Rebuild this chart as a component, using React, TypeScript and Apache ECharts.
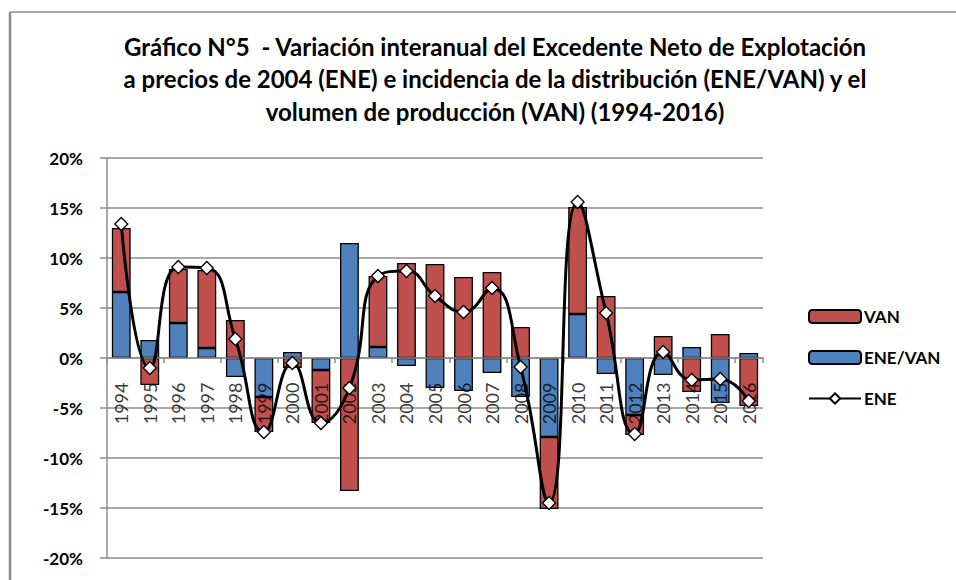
import React, { useEffect, useRef } from "react";
import * as echarts from "echarts";

const years = ["1994","1995","1996","1997","1998","1999","2000","2001","2002","2003","2004","2005","2006","2007","2008","2009","2010","2011","2012","2013","2014","2015","2016"];
const eneVan = [6.6, 1.8, 3.5, 1.0, -1.9, -3.9, 0.6, -1.2, 11.5, 1.1, -0.8, -3.0, -3.3, -1.5, -3.9, -7.9, 4.4, -1.6, -5.7, -1.7, 1.1, -4.5, 0.5];
const van = [6.4, -2.7, 5.4, 7.8, 3.8, -3.5, -1.0, -5.3, -13.3, 7.1, 9.5, 9.4, 8.1, 8.6, 3.1, -7.2, 10.7, 6.2, -2.0, 2.2, -3.4, 2.4, -4.8];
const ene = [13.4, -1.0, 9.1, 9.0, 1.9, -7.4, -0.5, -6.5, -3.0, 8.2, 8.7, 6.2, 4.6, 7.0, -0.9, -14.5, 15.6, 4.5, -7.6, 0.6, -2.2, -2.1, -4.3];

const titleText =
  "Gráfico N°5  - Variación interanual del Excedente Neto de Explotación\na precios de 2004 (ENE) e incidencia de la distribución (ENE/VAN) y el\nvolumen de producción (VAN) (1994-2016)";

export default function App() {
  const ref = useRef<HTMLDivElement>(null);
  useEffect(() => {
    if (!ref.current) return;
    const chart = echarts.init(ref.current, null, { renderer: "svg" });
    const gray = "#8c8c8c";
    chart.setOption({
      animation: false,
      textStyle: { fontFamily: "Lato" },
      title: {
        text: titleText,
        left: 490,
        top: 25,
        textAlign: "center",
        textStyle: { fontFamily: "Lato", fontWeight: "bold", fontSize: 24, lineHeight: 32.5, color: "#000" },
      },
      graphic: [
        { type: "line", shape: { x1: 10, y1: 12, x2: 956, y2: 12 }, style: { stroke: gray, lineWidth: 1.5 } },
        { type: "line", shape: { x1: 10, y1: 12, x2: 10, y2: 580 }, style: { stroke: gray, lineWidth: 2.5 } },
      ],
      legend: {
        orient: "vertical",
        left: 803,
        top: 303,
        itemWidth: 52,
        itemHeight: 13,
        itemGap: 24,
        data: ["VAN", "ENE/VAN", "ENE"],
        textStyle: { fontFamily: "Lato", fontWeight: "bold", fontSize: 17, color: "#000", padding: [0, 0, 0, -2] },
      },
      grid: { left: 107, right: 193, top: 158, bottom: 22, containLabel: false, outerBoundsMode: "none" },
      xAxis: {
        type: "category",
        data: years,
        z: 3,
        axisLine: { onZero: true, lineStyle: { color: gray, width: 1.5 } },
        axisTick: { show: true, length: 5, lineStyle: { color: gray, width: 1.5 } },
        axisLabel: { show: false },
      },
      yAxis: {
        type: "value",
        min: -20,
        max: 20,
        interval: 5,
        axisLine: { show: true, lineStyle: { color: gray, width: 1.5 } },
        axisTick: { show: true, length: 7, lineStyle: { color: gray, width: 1.5 } },
        splitLine: { lineStyle: { color: gray, width: 1.5 } },
        axisLabel: { formatter: "{value}%", margin: 24, fontSize: 17, fontWeight: "bold", color: "#000", fontFamily: "Lato" },
      },
      series: [
        {
          name: "ENE/VAN",
          type: "bar",
          stack: "total",
          barWidth: "66%",
          data: eneVan,
          itemStyle: { color: "#4F81BD", borderColor: "#000", borderWidth: 1.3 },
          z: 2,
        },
        {
          name: "VAN",
          type: "bar",
          stack: "total",
          barWidth: "66%",
          data: van,
          itemStyle: { color: "#C0504D", borderColor: "#000", borderWidth: 1.3 },
          z: 2,
        },
        {
          name: "yearLabels",
          type: "scatter",
          data: years.map((y) => [y, 0]),
          symbolSize: 1,
          itemStyle: { color: "rgba(0,0,0,0)" },
          silent: true,
          z: 3,
          label: {
            show: true,
            position: "bottom",
            distance: 24,
            rotate: 90,
            align: "right",
            verticalAlign: "middle",
            formatter: (p: any) => p.value[0],
            fontFamily: "Lato",
            fontSize: 18,
            color: "#000",
          },
        },
        {
          name: "ENE",
          type: "line",
          data: ene,
          smooth: 0.5,
          symbol: "diamond",
          symbolSize: 13,
          lineStyle: { color: "#000", width: 3 },
          itemStyle: { color: "#fff", borderColor: "#000", borderWidth: 1.3 },
          z: 5,
        },
      ],
    });
    return () => chart.dispose();
  }, []);
  return <div ref={ref} style={{ width: 956, height: 580, position: "absolute", left: 0, top: 0 }} />;
}
